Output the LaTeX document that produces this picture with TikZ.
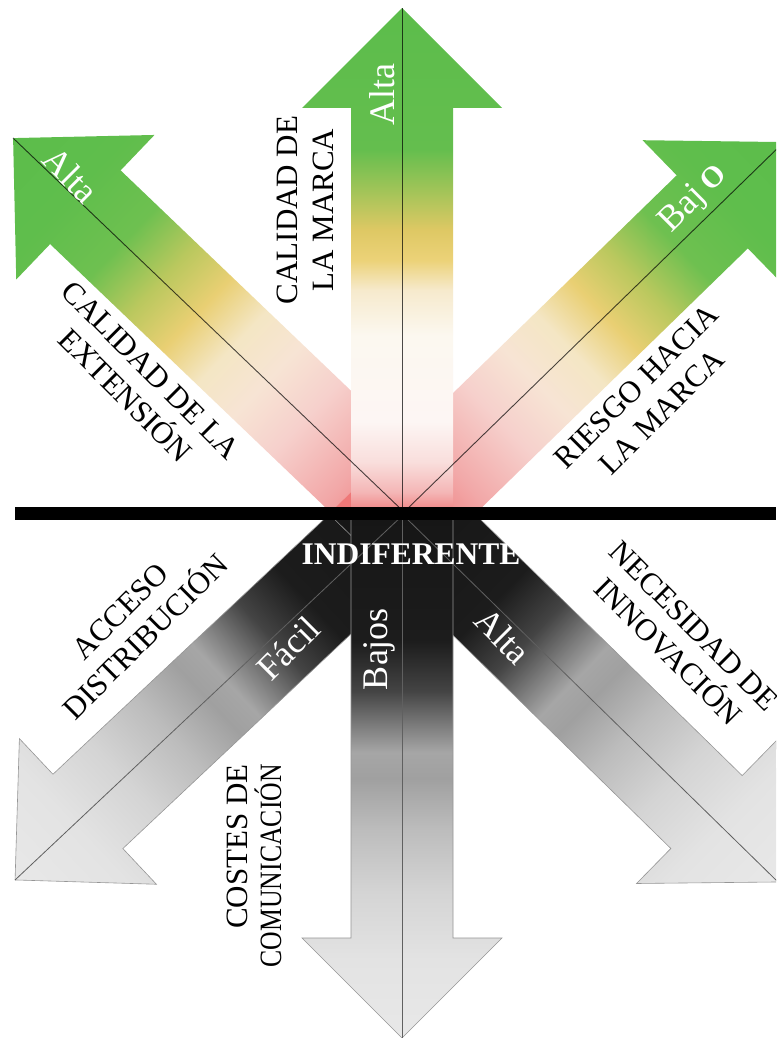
\documentclass[tikz,border=0pt]{standalone}
\usepackage{fontspec}
\usepackage{graphicx}
\setmainfont{Liberation Serif}
\usetikzlibrary{calc}

% upper diagonal arrows
\definecolor{ud0}{RGB}{239,120,120}
\definecolor{ud1}{RGB}{242,168,168}
\definecolor{ud2}{RGB}{246,208,204}
\definecolor{ud3}{RGB}{247,228,212}
\definecolor{ud4}{RGB}{244,230,196}
\definecolor{ud5}{RGB}{233,207,115}
\definecolor{ud6}{RGB}{186,200,94}
\definecolor{ud7}{RGB}{110,192,80}
\definecolor{ud8}{RGB}{95,190,76}
\definecolor{ud9}{RGB}{92,189,75}
% upper vertical arrow
\definecolor{uv0}{RGB}{240,128,128}
\definecolor{uv1}{RGB}{244,182,182}
\definecolor{uv2}{RGB}{249,222,220}
\definecolor{uv3}{RGB}{253,246,244}
\definecolor{uv4}{RGB}{252,248,240}
\definecolor{uv5}{RGB}{246,234,205}
\definecolor{uv6}{RGB}{236,210,120}
\definecolor{uv7}{RGB}{222,200,100}
\definecolor{uv8}{RGB}{160,196,88}
\definecolor{uv9}{RGB}{100,190,78}
\definecolor{uv10}{RGB}{92,189,75}
% lower arrows
\definecolor{lg0}{RGB}{22,22,22}
\definecolor{lg1}{RGB}{28,28,28}
\definecolor{lg2}{RGB}{68,68,68}
\definecolor{lg3}{RGB}{125,125,125}
\definecolor{lg4}{RGB}{166,166,166}
\definecolor{lg5}{RGB}{160,160,160}
\definecolor{lg6}{RGB}{188,188,188}
\definecolor{lg7}{RGB}{212,212,212}
\definecolor{lg8}{RGB}{227,227,227}
\definecolor{lg9}{RGB}{232,232,232}
\definecolor{lgedge}{RGB}{150,150,150}
\definecolor{lgline}{RGB}{96,96,96}

\pgfdeclareverticalshading{updiag}{100pt}{color(0pt)=(ud0); color(10.08pt)=(ud0); color(20.88pt)=(ud1); color(32.56pt)=(ud2); color(41.56pt)=(ud3); color(49.64pt)=(ud4); color(57.74pt)=(ud5); color(65.84pt)=(ud6); color(74.82pt)=(ud7); color(86.52pt)=(ud8); color(100pt)=(ud9)}
\pgfdeclareverticalshading{upvert}{100pt}{color(0pt)=(uv0); color(10.58pt)=(uv0); color(14.16pt)=(uv1); color(19.52pt)=(uv2); color(26.68pt)=(uv3); color(41.88pt)=(uv4); color(49.92pt)=(uv5); color(55.3pt)=(uv6); color(60.66pt)=(uv7); color(67.82pt)=(uv8); color(74.96pt)=(uv9); color(100pt)=(uv10)}
\pgfdeclareverticalshading{lowgrad}{100pt}{color(0pt)=(lg0); color(10.22pt)=(lg0); color(31.78pt)=(lg1); color(40.5pt)=(lg2); color(46.5pt)=(lg3); color(51pt)=(lg4); color(55.5pt)=(lg5); color(64.08pt)=(lg6); color(74.86pt)=(lg7); color(86.54pt)=(lg8); color(100pt)=(lg9)}

% #1,#2 start (image px), #3,#4 vector to tip (image px), #5 shading, #6 outline options
\newcommand{\bigarrow}[6]{%
  \pgfmathsetmacro{\arrang}{atan2(-(#4),#3)-90}%
  \pgfmathsetmacro{\arrlen}{veclen(#3,#4)}%
  \pgfmathsetmacro{\arrbase}{\arrlen-100}%
  \pgfmathsetmacro{\arrys}{(\arrlen+60)/100}%
  \begin{scope}[shift={(#1,#2)},rotate=\arrang,x=1pt,y=1pt]
    \begin{scope}
      \clip (-51,-60) -- (-51,\arrbase) -- (-100,\arrbase) -- (0,\arrlen)
        -- (100,\arrbase) -- (51,\arrbase) -- (51,-60) -- cycle;
      \node[inner sep=0pt, outer sep=0pt, anchor=south, transform shape,
            xscale=2.2, yscale=\arrys] at (0,-60) {\pgfuseshading{#5}};
    \end{scope}
    \path[#6] (-51,-60) -- (-51,\arrbase) -- (-100,\arrbase) -- (0,\arrlen)
        -- (100,\arrbase) -- (51,\arrbase) -- (51,-60) -- cycle;
  \end{scope}}

\tikzset{
  lbl/.style={inner sep=0pt, align=center, text=black, font=\fontsize{31}{36}\selectfont},
  wlbl/.style={inner sep=0pt, text=white, font=\fontsize{36}{36}\selectfont},
  ucl/.style={draw=black, draw opacity=0.7, line width=0.9pt},
  lcl/.style={draw=lgline, line width=0.8pt},
  lowarrow/.style={draw=lgedge, line width=0.6pt},
  noline/.style={}
}

\begin{document}
\begin{tikzpicture}[x=1pt,y=-1pt]
\useasboundingbox (0,0) rectangle (776,1038);
\clip (0,0) rectangle (776,1038);
\fill[white] (0,0) rectangle (776,1038);

\coordinate (Ou) at (404,512);
\coordinate (Ouv) at (402,512);
\coordinate (Ol) at (403,515);
\coordinate (Olv) at (402,515);
\coordinate (tUL) at (13,138);
\coordinate (tUR) at (784,142);
\coordinate (tUV) at (402,8);
\coordinate (tLL) at (15,880);
\coordinate (tLR) at (778,882);
\coordinate (tLV) at (402,1038);

% ---------- upper arrows ----------
\begin{scope}
  \clip (0,0) rectangle (776,511);
  \bigarrow{404}{512}{-391}{-374}{updiag}{noline}
  \bigarrow{404}{512}{380}{-370}{updiag}{noline}
  \bigarrow{402}{512}{0}{-504}{upvert}{noline}
  \draw[ucl] (Ou) -- (tUL);
  \draw[ucl] (Ou) -- (tUR);
  \draw[ucl] (Ouv) -- (tUV);
\end{scope}

% ---------- lower arrows ----------
\begin{scope}
  \clip (0,511) rectangle (776,1038);
  \bigarrow{403}{515}{-388}{365}{lowgrad}{lowarrow}
  \bigarrow{403}{515}{375}{367}{lowgrad}{lowarrow}
  \bigarrow{402}{515}{0}{523}{lowgrad}{lowarrow}
  \draw[lcl] (Ol) -- (tLL);
  \draw[lcl] (Ol) -- (tLR);
  \draw[lcl] (Olv) -- (tLV);
\end{scope}

% ---------- bar ----------
\fill[black] (15,507) rectangle (776,520);

% ---------- labels ----------
\node[lbl, rotate=90] (calmarca) at (305,210) {CALIDAD DE\\LA MARCA};
\node[lbl, rotate=-45] (calext) at (138,383) {CALIDAD DE LA\\EXTENSIÓN};
\node[lbl, rotate=45] (riesgo) at (649,399) {RIESGO HACIA\\LA MARCA};
\node[lbl, rotate=45] (acceso) at (133,624) {ACCESO\\DISTRIBUCIÓN};
\node[lbl, rotate=-45] (neces) at (681,639) {NECESIDAD DE\\INNOVACIÓN};
\node[lbl, rotate=90, anchor=east, align=right, font=\fontsize{31}{34}\selectfont] (costes) at (254,764)
  {COSTES DE\\\scalebox{0.83}[1]{COMUNICACIÓN}};
\node[inner sep=0pt, text=white, font=\fontsize{31.5}{32}\selectfont\bfseries] (indif) at (411,554) {INDIFERENTE};

\node[wlbl, rotate=90] (altauv) at (382,95) {Alta};
\node[wlbl, rotate=-45] (altaul) at (71,175) {Alta};
\node[wlbl, rotate=45] (bajo) at (694,199) {Baj\hspace{7pt}{\fontsize{30}{30}\selectfont\bfseries O}};
\node[wlbl, rotate=45] (facil) at (288,648) {Fácil};
\node[wlbl, rotate=90] (bajos) at (379,649) {Bajos};
\node[wlbl, rotate=-45] (altalr) at (503,636) {Alta};
\end{tikzpicture}
\end{document}
